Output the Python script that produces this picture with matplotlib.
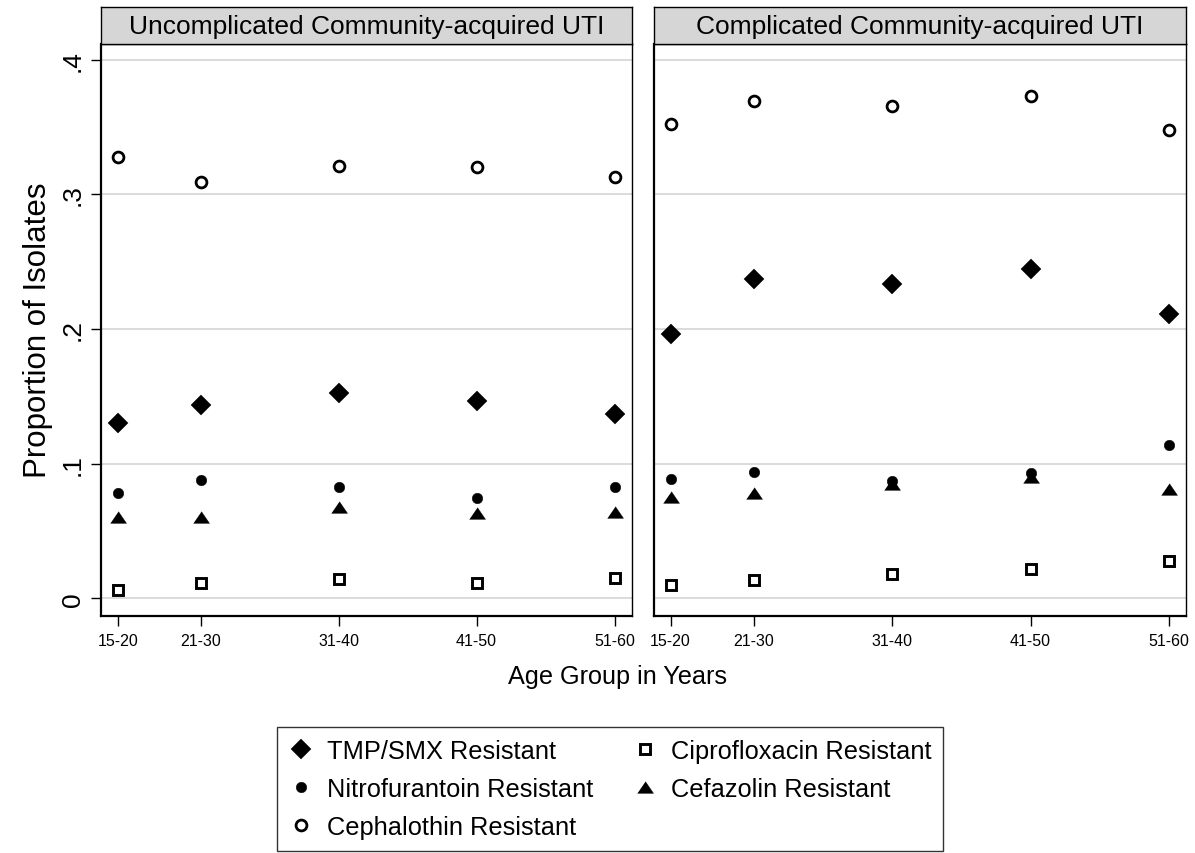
import numpy as np
import matplotlib.pyplot as plt
from matplotlib.lines import Line2D

plt.rcParams['font.family'] = ['Liberation Sans', 'DejaVu Sans']

# age groups, placed on a numeric axis at roughly their mid-ages
age_groups = ["15-20", "21-30", "31-40", "41-50", "51-60"]
age_pos = [19.5, 25.5, 35.5, 45.5, 55.5]

panel_titles = ["Uncomplicated Community-acquired UTI",
                "Complicated Community-acquired UTI"]

# proportion of isolates resistant, by age group
tmp_smx_uncomp = [0.1305, 0.1439, 0.1526, 0.1465, 0.1366]
tmp_smx_comp = [0.1960, 0.2370, 0.2335, 0.2443, 0.2111]

nitro_uncomp = [0.0784, 0.0881, 0.0826, 0.0743, 0.0830]
nitro_comp = [0.0887, 0.0940, 0.0874, 0.0932, 0.1139]

cephalothin_uncomp = [0.3277, 0.3091, 0.3207, 0.3200, 0.3130]
cephalothin_comp = [0.3519, 0.3695, 0.3655, 0.3728, 0.3476]

cipro_uncomp = [0.0062, 0.0112, 0.0141, 0.0114, 0.0149]
cipro_comp = [0.0096, 0.0139, 0.0181, 0.0219, 0.0277]

cefazolin_uncomp = [0.0603, 0.0603, 0.0677, 0.0634, 0.0639]
cefazolin_comp = [0.0756, 0.0781, 0.0851, 0.0904, 0.0809]

y_ticks = [0, 0.1, 0.2, 0.3, 0.4]
y_tick_labels = ["0", ".1", ".2", ".3", ".4"]

W, H = 1195, 854
fig = plt.figure(figsize=(W / 100, H / 100), dpi=100)


def add_px_axes(x0, y0, x1, y1):
    return fig.add_axes([x0 / W, 1 - y1 / H, (x1 - x0) / W, (y1 - y0) / H])


tri = [(-1, -0.73), (1, -0.73), (0, 0.73)]
styles = {
    "TMP/SMX Resistant": dict(marker="D", ms=10, mfc="black", mec="black", mew=0.3),
    "Nitrofurantoin Resistant": dict(marker="o", ms=7.6, mfc="black", mec="black", mew=0.3),
    "Cephalothin Resistant": dict(marker="o", ms=7.8, mfc="white", mec="black", mew=2.0),
    "Ciprofloxacin Resistant": dict(marker="s", ms=7.5, mfc="white", mec="black", mew=2.1),
    "Cefazolin Resistant": dict(marker=tri, ms=11.5, mfc="black", mec="black", mew=0.3),
}

panels = [
    {"TMP/SMX Resistant": tmp_smx_uncomp, "Nitrofurantoin Resistant": nitro_uncomp,
     "Cephalothin Resistant": cephalothin_uncomp, "Ciprofloxacin Resistant": cipro_uncomp,
     "Cefazolin Resistant": cefazolin_uncomp},
    {"TMP/SMX Resistant": tmp_smx_comp, "Nitrofurantoin Resistant": nitro_comp,
     "Cephalothin Resistant": cephalothin_comp, "Ciprofloxacin Resistant": cipro_comp,
     "Cefazolin Resistant": cefazolin_comp},
]

x_edges = [(101, 631.5), (653.5, 1186)]
top, strip_top, bottom = 44.5, 7.5, 616.7

for i, (series, (x0, x1)) in enumerate(zip(panels, x_edges)):
    ax = add_px_axes(x0, top, x1, bottom)
    for name, vals in series.items():
        ax.plot(age_pos, vals, linestyle="none", zorder=3, **styles[name])

    ax.set_xlim(18.27, 56.73)
    ax.set_ylim(-0.0129, 0.4120)
    ax.set_xticks(age_pos)
    ax.set_xticklabels(age_groups, fontsize=11.5)
    ax.set_yticks(y_ticks)
    ax.yaxis.grid(True, color="#dadada", lw=1.4)
    ax.set_axisbelow(True)
    ax.tick_params(axis="x", direction="out", length=7.5, width=1.0, pad=5)
    if i == 0:
        ax.set_yticklabels(y_tick_labels, fontsize=19, rotation=90, va="center")
        ax.tick_params(axis="y", direction="out", length=7.5, width=1.0, pad=4)
        ax.set_ylabel("Proportion of Isolates", fontsize=22.5, labelpad=6)
    else:
        ax.set_yticklabels([])
        ax.tick_params(axis="y", length=0)
    for side in ["left", "bottom"]:
        ax.spines[side].set_linewidth(1.6)
    for side in ["top", "right"]:
        ax.spines[side].set_linewidth(1.0)

    # panel title strip
    sax = add_px_axes(x0, strip_top, x1, top)
    sax.set_facecolor("#d6d6d6")
    sax.set_xticks([])
    sax.set_yticks([])
    for sp in sax.spines.values():
        sp.set_linewidth(1.0)
    sax.text(0.5, 0.47, panel_titles[i], ha="center", va="center", fontsize=19,
             transform=sax.transAxes)

fig.text(617 / W, 1 - 677 / H, "Age Group in Years", ha="center", va="center", fontsize=18.2)

handles = [Line2D([], [], linestyle="none", **styles[n]) for n in styles]
leg = fig.legend(handles, list(styles.keys()), ncol=2, loc="center",
                 bbox_to_anchor=(610 / W, 1 - 790 / H), fontsize=18.3,
                 frameon=True, fancybox=False, edgecolor="black",
                 handlelength=1.0, handletextpad=0.5, columnspacing=1.55,
                 labelspacing=0.56, borderpad=0.45, borderaxespad=0)
leg.get_frame().set_linewidth(1.0)

fig.savefig("out.png", dpi=100)
